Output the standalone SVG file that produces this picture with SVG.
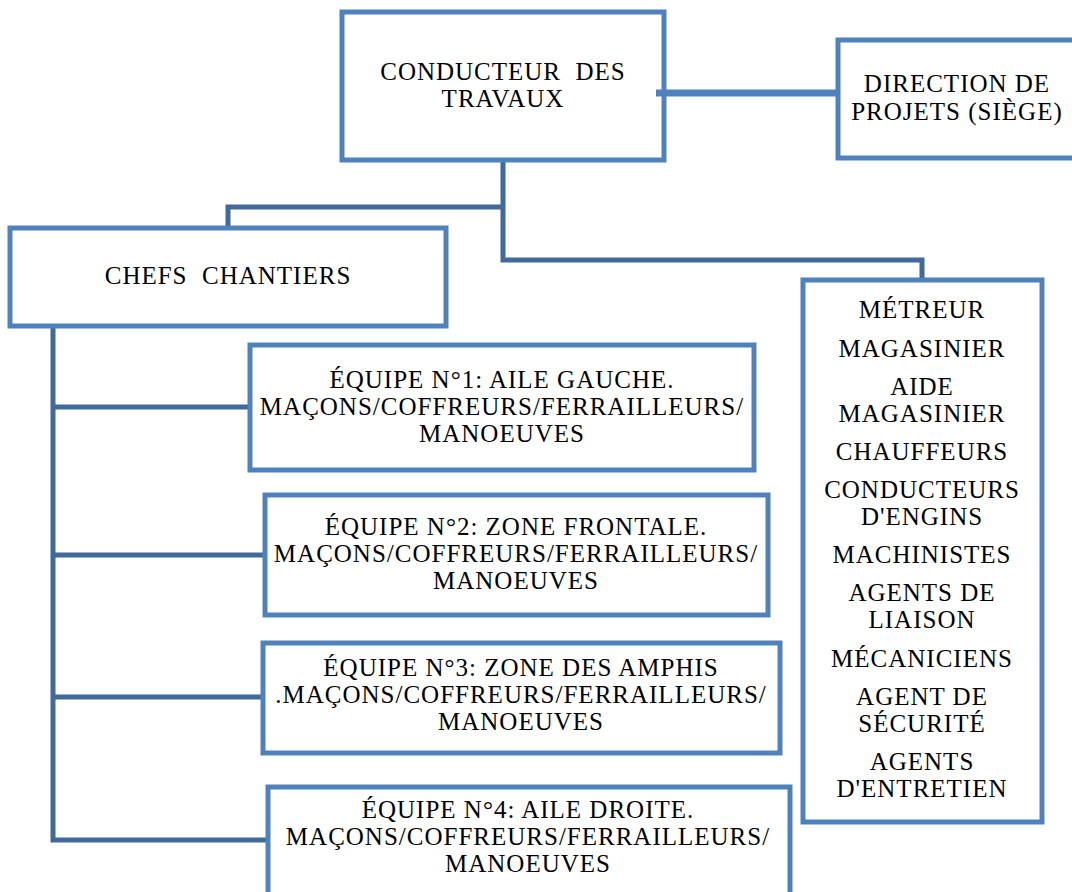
<svg xmlns="http://www.w3.org/2000/svg" width="1072" height="892" viewBox="0 0 1072 892">
<style>
.box{fill:#fff;stroke:#4F81BD;stroke-width:5}
.ln{fill:none;stroke:#41699B;stroke-width:5}
text{font-family:'Liberation Serif','Times New Roman',serif;font-size:25px;letter-spacing:1px;fill:#000;text-anchor:middle;white-space:pre}
</style>
<rect width="1072" height="892" fill="#fff"/>
<g id="connectors">
<path class="ln" d="M503,160 V260 H922 V280"/>
<path class="ln" d="M503,207 H228 V228"/>
<path class="ln" d="M53,326 V840 H268"/>
<path class="ln" d="M53,407 H250"/>
<path class="ln" d="M53,555 H265"/>
<path class="ln" d="M53,697 H263"/>
</g>
<g id="conducteur">
<rect class="box" x="342" y="12" width="322" height="148"/>
<text x="503" y="80" xml:space="preserve">CONDUCTEUR  DES</text>
<text x="503" y="107">TRAVAUX</text>
</g>
<g id="direction">
<rect class="box" x="838" y="40" width="240" height="118"/>
<text x="957" y="92">DIRECTION DE</text>
<text x="957" y="120">PROJETS (SIÈGE)</text>
</g>
<g id="link">
<path class="ln" d="M656,93 H836" style="stroke:#4F81BD;stroke-width:7"/>
</g>
<g id="chefs">
<rect class="box" x="10" y="228" width="436" height="98"/>
<text x="228" y="284" xml:space="preserve">CHEFS  CHANTIERS</text>
</g>
<g id="equipe1">
<rect class="box" x="250" y="345" width="504" height="125"/>
<text x="502" y="388">ÉQUIPE N°1: AILE GAUCHE.</text>
<text x="502" y="415">MAÇONS/COFFREURS/FERRAILLEURS/</text>
<text x="502" y="442">MANOEUVES</text>
</g>
<g id="equipe2">
<rect class="box" x="265" y="495" width="503" height="120"/>
<text x="516" y="535">ÉQUIPE N°2: ZONE FRONTALE.</text>
<text x="516" y="562">MAÇONS/COFFREURS/FERRAILLEURS/</text>
<text x="516" y="589">MANOEUVES</text>
</g>
<g id="equipe3">
<rect class="box" x="263" y="643" width="517" height="110"/>
<text x="521" y="676">ÉQUIPE N°3: ZONE DES AMPHIS</text>
<text x="521" y="703">.MAÇONS/COFFREURS/FERRAILLEURS/</text>
<text x="521" y="730">MANOEUVES</text>
</g>
<g id="equipe4">
<rect class="box" x="268" y="787" width="522" height="120"/>
<text x="528" y="818">ÉQUIPE N°4: AILE DROITE.</text>
<text x="528" y="845">MAÇONS/COFFREURS/FERRAILLEURS/</text>
<text x="528" y="872">MANOEUVES</text>
</g>
<g id="personnel">
<rect class="box" x="803" y="280" width="239" height="542"/>
<text x="922" y="318">MÉTREUR</text>
<text x="922" y="357">MAGASINIER</text>
<text x="922" y="395">AIDE</text>
<text x="922" y="422">MAGASINIER</text>
<text x="922" y="460">CHAUFFEURS</text>
<text x="922" y="498">CONDUCTEURS</text>
<text x="922" y="525">D'ENGINS</text>
<text x="922" y="563">MACHINISTES</text>
<text x="922" y="601">AGENTS DE</text>
<text x="922" y="628">LIAISON</text>
<text x="922" y="667">MÉCANICIENS</text>
<text x="922" y="705">AGENT DE</text>
<text x="922" y="732">SÉCURITÉ</text>
<text x="922" y="770">AGENTS</text>
<text x="922" y="797">D'ENTRETIEN</text>
</g>
</svg>
